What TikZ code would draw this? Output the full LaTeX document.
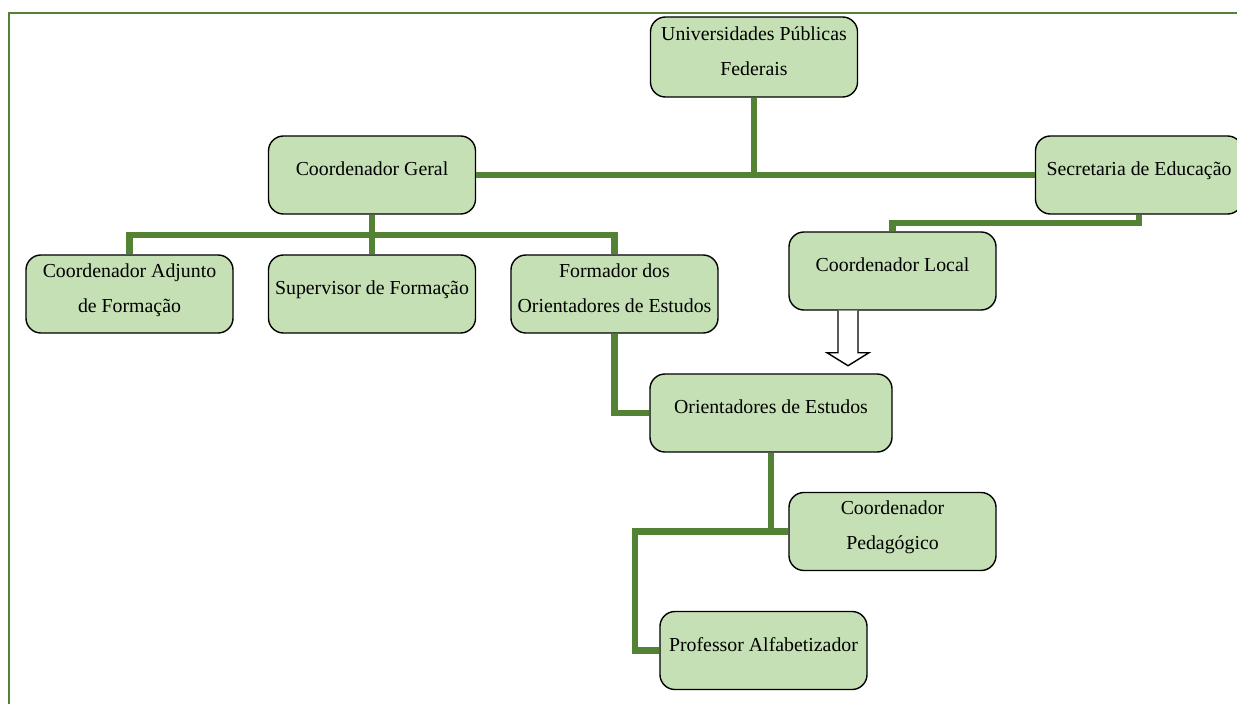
\documentclass[tikz,border=0pt]{standalone}
\usepackage{fontspec}
\setmainfont{Liberation Serif}
\definecolor{boxgreen}{RGB}{197,224,180}
\definecolor{linkgreen}{RGB}{84,130,53}
\tikzset{
  unit/.style={draw=black, line width=1pt, fill=boxgreen, rounded corners=0.375cm,
    minimum width=5.175cm, minimum height=1.95cm, align=center, text depth=8.5pt,
    font=\fontsize{14.1}{24.9}\selectfont},
  link/.style={draw=linkgreen, line width=4.3pt},
  frame/.style={draw=linkgreen, line width=1.5pt},
}
\begin{document}
\begin{tikzpicture}[x=0.025cm,y=-0.025cm]
        \useasboundingbox (0,0) rectangle (1237,704);

        % Draw the outer frame (only top and left edges are visible)
        \draw[frame] (1245,13) -- (9,13) -- (9,712);

        % Draw the units of the organisation
        \node[unit, minimum height=2cm] (univ) at (754,57) {Universidades Públicas\\Federais};
        \node[unit] (geral) at (372,175) {Coordenador Geral};
        \node[unit] (secr) at (1139,175) {Secretaria de Educação};
        \node[unit] (adj) at (129.5,294) {Coordenador Adjunto\\de Formação};
        \node[unit] (sup) at (372,294) {Supervisor de Formação};
        \node[unit] (form) at (614.5,294) {Formador dos\\Orientadores de Estudos};
        \node[unit] (local) at (892.5,271) {Coordenador Local};
        \node[unit, minimum width=6.05cm] (orient) at (771,413) {Orientadores de Estudos};
        \node[unit] (pedag) at (892.5,531.5) {Coordenador\\Pedagógico};
        \node[unit] (prof) at (763.5,650.5) {Professor Alfabetizador};

        % Draw the connectors
        \draw[link] (geral.east) -- (secr.west);
        \draw[link] (univ.south) -- (univ.south |- geral.east);
        \draw[link] (geral.south) -- (sup.north);
        \draw[link] (adj.north) -- ++(0,-19) -| (form.north);
        \draw[link] (secr.south) -- ++(0,8) -| (local.north);
        \draw[link] (form.south) |- (orient.west);
        \draw[link] (orient.south) |- (pedag.west);
        \draw[link] (prof.west) -- ++(-24,0) |- (pedag.west);

        % Draw the hollow arrow below the local coordinator
        \draw[shift={(local.south)}, line width=1pt, fill=white]
            (-54.5,0) -- (-54.5,42) -- (-65.5,42) -- (-44.5,55) -- (-23.5,42) -- (-34.5,42) -- (-34.5,0);
\end{tikzpicture}
\end{document}
